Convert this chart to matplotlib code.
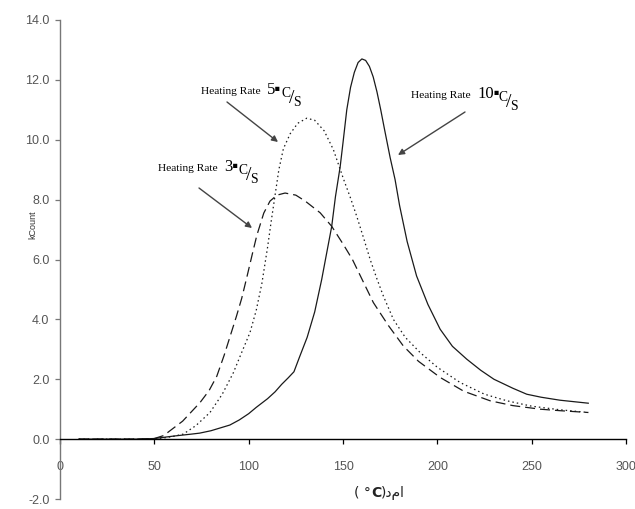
import numpy as np
import matplotlib
matplotlib.use("Agg")
import matplotlib.pyplot as plt

plt.rcParams["mathtext.fontset"] = "custom"
plt.rcParams["mathtext.rm"] = "Liberation Serif"
plt.rcParams["mathtext.it"] = "Liberation Serif:italic"

# ---------------- data ----------------
# heating rate 10 C/s (solid)
t10 = [10, 20, 30, 40, 50, 55, 60, 70, 74, 80, 90, 95, 100, 104, 110, 114, 117.5, 121, 124, 127, 131,
       135, 138.7, 141, 144, 146, 148.5, 150, 152, 154, 156, 158, 160, 162, 164, 166, 168, 170,
       172, 175, 177.6, 180, 184, 189, 195, 201.5, 208, 215.6, 223, 230, 240, 247.4, 255, 265, 280]
k10 = [0, 0, 0, 0, 0.02, 0.06, 0.1, 0.17, 0.2, 0.28, 0.47, 0.64, 0.85, 1.06, 1.35, 1.58, 1.83, 2.05,
       2.25, 2.75, 3.4, 4.25, 5.33, 6.1, 7.1, 8.1, 9.1, 9.9, 11.0, 11.75, 12.25, 12.58, 12.7, 12.65,
       12.45, 12.1, 11.6, 11.0, 10.35, 9.4, 8.67, 7.8, 6.6, 5.45, 4.5, 3.67, 3.1, 2.67, 2.3, 2.0,
       1.7, 1.5, 1.4, 1.3, 1.2]

# heating rate 5 C/s (dotted)
t5 = [10, 20, 30, 40, 50, 55, 60, 65.4, 72, 79.5, 86, 91.9, 96, 100.7, 104, 107, 110, 112, 114, 116,
      118.4, 122, 126, 130.8, 135, 140, 144.9, 150.2, 154, 157.3, 161, 164.4, 168, 171.4, 176.7,
      183, 190.9, 200, 212.1, 225, 236.9, 250, 265, 280]
k5 = [0, 0, 0, 0, 0.01, 0.04, 0.09, 0.17, 0.45, 0.89, 1.5, 2.22, 2.85, 3.56, 4.3, 5.2, 6.4, 7.3,
      8.15, 9.0, 9.7, 10.2, 10.55, 10.72, 10.65, 10.3, 9.67, 8.7, 8.05, 7.44, 6.7, 6.0, 5.35, 4.78,
      4.0, 3.4, 2.89, 2.4, 1.89, 1.5, 1.28, 1.1, 0.98, 0.89]

# heating rate 3 C/s (dashed)
t3 = [10, 20, 30, 40, 50, 55, 58.3, 65, 74.2, 79, 83.1, 87, 90, 93.5, 96.3, 99, 102, 104.3, 108,
      111.3, 115, 119.3, 125, 130, 137.9, 144, 150.2, 155, 160, 166.1, 174, 182, 190, 201.5, 214,
      228, 240, 254.5, 265, 280]
k3 = [0, 0, 0, 0, 0.02, 0.12, 0.28, 0.6, 1.22, 1.62, 2.1, 2.8, 3.4, 4.1, 4.7, 5.4, 6.2, 6.8, 7.55,
      7.95, 8.15, 8.22, 8.15, 7.95, 7.56, 7.11, 6.5, 6.0, 5.35, 4.56, 3.8, 3.11, 2.6, 2.06, 1.6,
      1.28, 1.12, 1.0, 0.95, 0.89]

xticks = [0, 50, 100, 150, 200, 250, 300]
yticks = [-2, 0, 2, 4, 6, 8, 10, 12, 14]

W, H = 635, 509


def px(x, y):
    # pixel position in the picture -> figure fraction
    return (x / W, 1 - y / H)


# ---------------- plotting ----------------
fig = plt.figure(figsize=(W / 100, H / 100), dpi=100)
ax = fig.add_axes([60 / W, 10 / H, 566 / W, 479 / H])

line_col = "#1a1a1a"
ax.plot(t10, k10, color=line_col, lw=0.9, ls="-")
ax.plot(t5, k5, color=line_col, lw=0.9, ls=(0, (1.2, 2.4)))
ax.plot(t3, k3, color=line_col, lw=0.9, ls=(0, (8, 4)))

ax.set_xlim(0, 300)
ax.set_ylim(-2, 14)
ax.spines["top"].set_visible(False)
ax.spines["right"].set_visible(False)
ax.spines["bottom"].set_position(("data", 0))
ax.spines["bottom"].set_color("black")
ax.spines["bottom"].set_linewidth(1.0)
ax.spines["left"].set_color("#777777")
ax.spines["left"].set_linewidth(1.0)

ax.set_xticks(xticks)
ax.set_yticks(yticks)
ax.set_xticklabels([str(v) for v in xticks])
ax.set_yticklabels(["%.1f" % v for v in yticks])
ax.tick_params(axis="x", direction="out", length=3.6, width=0.9, color="black", pad=12,
               labelsize=9, labelcolor="#555555")
ax.tick_params(axis="y", direction="out", length=3.6, width=0.9, color="#777777", pad=4,
               labelsize=9, labelcolor="#555555")
for lab in ax.get_xticklabels() + ax.get_yticklabels():
    lab.set_fontfamily("Liberation Sans")

# y label
fig.text(*px(33, 225), "kCount", rotation=90, ha="center", va="center",
         fontsize=6.5, color="#333333", family="Liberation Sans")

# x label: ( °C)دما
fig.text(*px(371, 493), "( °", ha="right", va="center", fontsize=10, color="#222222",
         family="DejaVu Sans")
fig.text(*px(371, 493), "C", ha="left", va="center", fontsize=10, color="#222222",
         family="DejaVu Sans", weight="bold")
fig.text(*px(381, 493), ")دما", ha="left", va="center", fontsize=10, color="#222222",
         family="DejaVu Sans")

# annotations
serif = "Liberation Serif"
notes = [
    # number, text left x, text center y, arrow start, arrow end
    ("5", 201, 92, (227, 102), (278, 142)),
    ("10", 411, 96, (465, 112), (398, 155)),
    ("3", 158, 169, (199, 188), (252, 228)),
]
for num, x0, y0, a0, a1 in notes:
    fig.text(*px(x0, y0), "Heating Rate", ha="left", va="center", fontsize=8.2,
             family=serif, color="black")
    xn = x0 + 66
    fig.text(*px(xn, y0 - 2), num + "\u25aa", ha="left", va="center", fontsize=12,
             family=[serif, "DejaVu Sans"], color="black")
    xn += 7 * len(num) + 7
    fig.text(*px(xn, y0 + 5), r"$^{\mathrm{C}}\!/_{\mathrm{S}}$", ha="left", va="center",
             fontsize=14, color="black")
    ax.annotate("", xy=px(*a1), xytext=px(*a0), xycoords="figure fraction",
                textcoords="figure fraction",
                arrowprops=dict(arrowstyle="-|>", color="#444444", lw=1.0,
                                mutation_scale=9, shrinkA=0, shrinkB=0))

plt.savefig("out.png", dpi=100)
